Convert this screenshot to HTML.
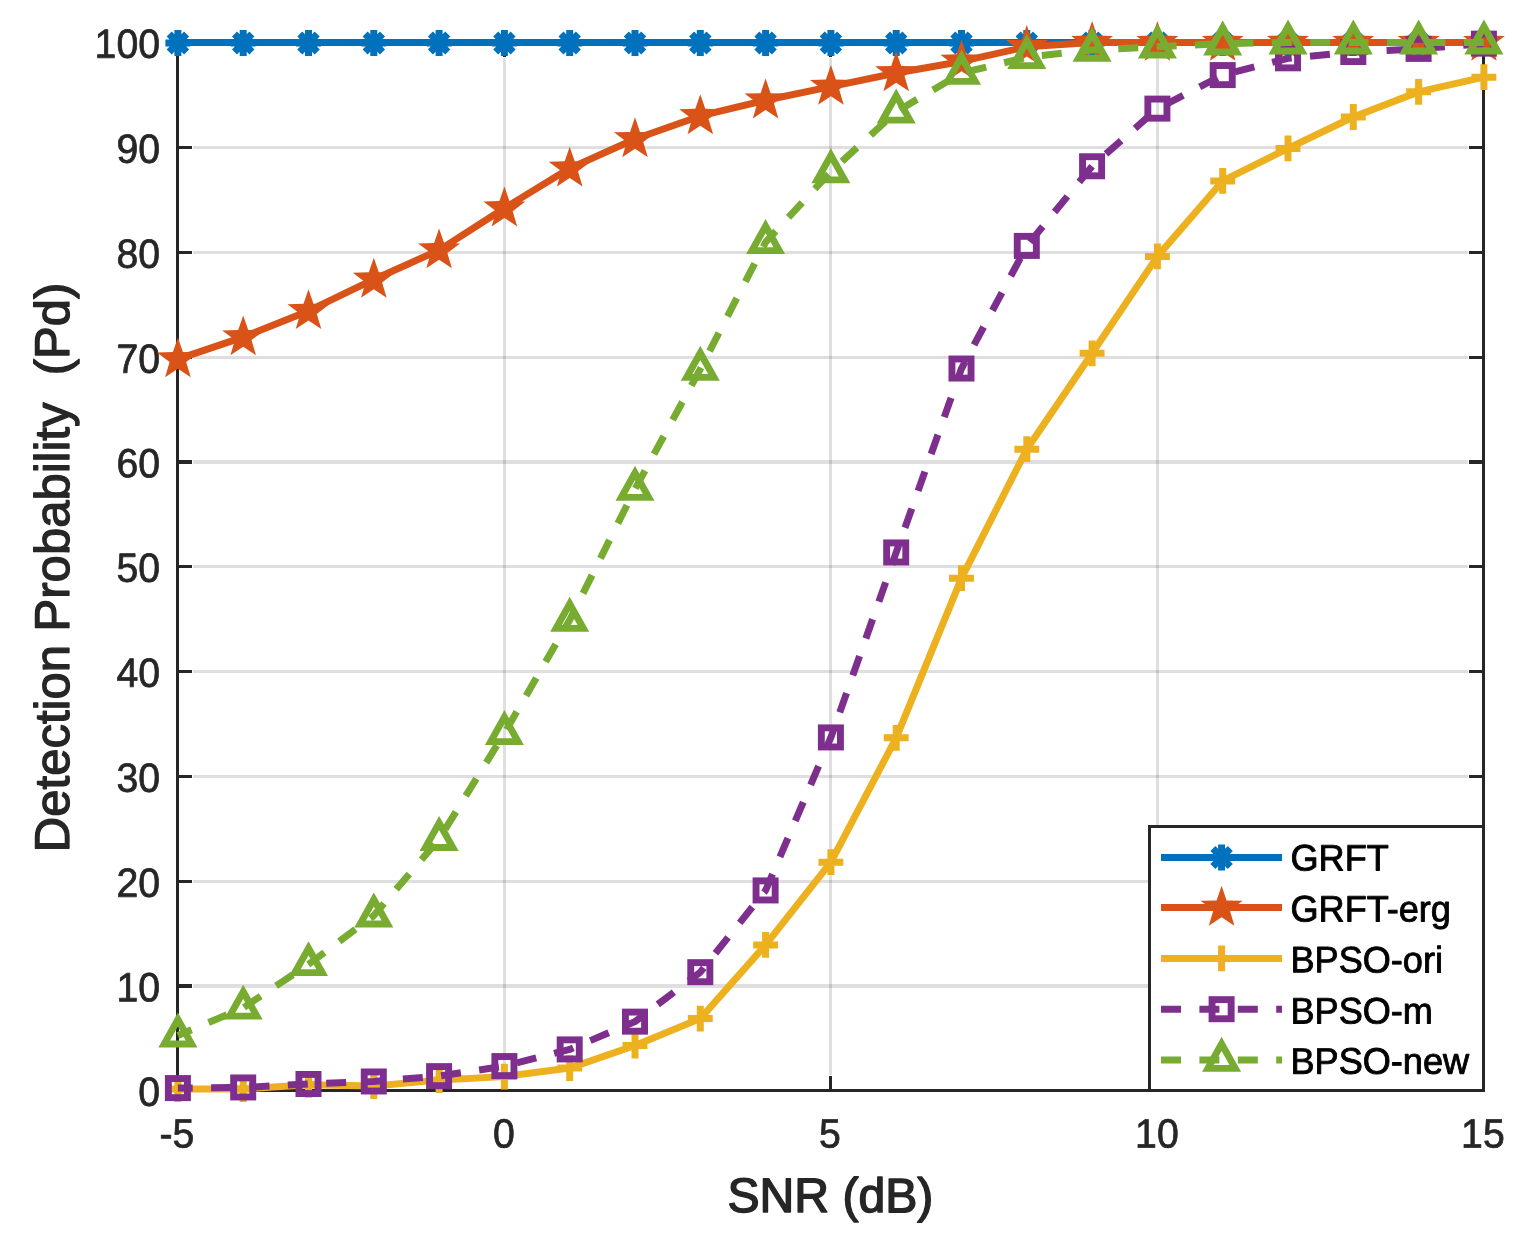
<!DOCTYPE html>
<html lang="en">
<head>
<meta charset="utf-8">
<title>Detection Probability vs SNR</title>
<style>
html,body{margin:0;padding:0;background:#ffffff;}
body{width:1522px;height:1238px;overflow:hidden;}
svg{display:block;}
</style>
</head>
<body>
<svg width="1522" height="1238" viewBox="0 0 1522 1238" role="img" aria-label="Detection probability versus SNR">
<rect x="0" y="0" width="1522" height="1238" fill="#ffffff"/>
<path d="M504.5 58.1V1074.9M830.5 58.1V1074.9M1157.5 58.1V1074.9" stroke="#262626" stroke-opacity="0.15" stroke-width="3" fill="none"/>
<path d="M193.1 881.5H1467.9M193.1 776.5H1467.9M193.1 671.5H1467.9M193.1 566.5H1467.9M193.1 357.5H1467.9M193.1 252.5H1467.9M193.1 147.5H1467.9" stroke="#262626" stroke-opacity="0.15" stroke-width="3" fill="none"/>
<path d="M193.1 986H1467.9M193.1 462H1467.9" stroke="#262626" stroke-opacity="0.15" stroke-width="4" fill="none"/>
<path d="M177.5 41V1092M1483.5 41V1092M176 42.5H1485M176 1090.5H1485M177.5 1090.5V1076M177.5 42.5V57M504.5 1090.5V1076M504.5 42.5V57M830.5 1090.5V1076M830.5 42.5V57M1157.5 1090.5V1076M1157.5 42.5V57M1483.5 1090.5V1076M1483.5 42.5V57M177.5 1090.5H192M1483.5 1090.5H1469M177.5 881.5H192M1483.5 881.5H1469M177.5 776.5H192M1483.5 776.5H1469M177.5 671.5H192M1483.5 671.5H1469M177.5 566.5H192M1483.5 566.5H1469M177.5 357.5H192M1483.5 357.5H1469M177.5 252.5H192M1483.5 252.5H1469M177.5 147.5H192M1483.5 147.5H1469M177.5 42.5H192M1483.5 42.5H1469" stroke="#262626" stroke-width="3" fill="none"/>
<path d="M177.5 986H192M1483.5 986H1469M177.5 462H192M1483.5 462H1469" stroke="#262626" stroke-width="4" fill="none"/>
<text transform="translate(176.9 1147.5) rotate(0.03) scale(0.9620 1)" text-rendering="geometricPrecision" font-family="'Liberation Sans', Arial, Helvetica, sans-serif" font-size="40.75" text-anchor="middle" fill="#262626" stroke="#262626" stroke-width="0.75" stroke-linejoin="round">-5</text>
<text transform="translate(503.9 1147.5) rotate(0.03) scale(0.9620 1)" text-rendering="geometricPrecision" font-family="'Liberation Sans', Arial, Helvetica, sans-serif" font-size="40.75" text-anchor="middle" fill="#262626" stroke="#262626" stroke-width="0.75" stroke-linejoin="round">0</text>
<text transform="translate(829.9 1147.5) rotate(0.03) scale(0.9620 1)" text-rendering="geometricPrecision" font-family="'Liberation Sans', Arial, Helvetica, sans-serif" font-size="40.75" text-anchor="middle" fill="#262626" stroke="#262626" stroke-width="0.75" stroke-linejoin="round">5</text>
<text transform="translate(1156.9 1147.5) rotate(0.03) scale(0.9620 1)" text-rendering="geometricPrecision" font-family="'Liberation Sans', Arial, Helvetica, sans-serif" font-size="40.75" text-anchor="middle" fill="#262626" stroke="#262626" stroke-width="0.75" stroke-linejoin="round">10</text>
<text transform="translate(1482.9 1147.5) rotate(0.03) scale(0.9620 1)" text-rendering="geometricPrecision" font-family="'Liberation Sans', Arial, Helvetica, sans-serif" font-size="40.75" text-anchor="middle" fill="#262626" stroke="#262626" stroke-width="0.75" stroke-linejoin="round">15</text>
<text transform="translate(160 1105.7) rotate(0.03) scale(0.9620 1)" text-rendering="geometricPrecision" font-family="'Liberation Sans', Arial, Helvetica, sans-serif" font-size="40.75" text-anchor="end" fill="#262626" stroke="#262626" stroke-width="0.75" stroke-linejoin="round">0</text>
<text transform="translate(160 1001.2) rotate(0.03) scale(0.9620 1)" text-rendering="geometricPrecision" font-family="'Liberation Sans', Arial, Helvetica, sans-serif" font-size="40.75" text-anchor="end" fill="#262626" stroke="#262626" stroke-width="0.75" stroke-linejoin="round">10</text>
<text transform="translate(160 896.7) rotate(0.03) scale(0.9620 1)" text-rendering="geometricPrecision" font-family="'Liberation Sans', Arial, Helvetica, sans-serif" font-size="40.75" text-anchor="end" fill="#262626" stroke="#262626" stroke-width="0.75" stroke-linejoin="round">20</text>
<text transform="translate(160 791.7) rotate(0.03) scale(0.9620 1)" text-rendering="geometricPrecision" font-family="'Liberation Sans', Arial, Helvetica, sans-serif" font-size="40.75" text-anchor="end" fill="#262626" stroke="#262626" stroke-width="0.75" stroke-linejoin="round">30</text>
<text transform="translate(160 686.7) rotate(0.03) scale(0.9620 1)" text-rendering="geometricPrecision" font-family="'Liberation Sans', Arial, Helvetica, sans-serif" font-size="40.75" text-anchor="end" fill="#262626" stroke="#262626" stroke-width="0.75" stroke-linejoin="round">40</text>
<text transform="translate(160 581.7) rotate(0.03) scale(0.9620 1)" text-rendering="geometricPrecision" font-family="'Liberation Sans', Arial, Helvetica, sans-serif" font-size="40.75" text-anchor="end" fill="#262626" stroke="#262626" stroke-width="0.75" stroke-linejoin="round">50</text>
<text transform="translate(160 477.2) rotate(0.03) scale(0.9620 1)" text-rendering="geometricPrecision" font-family="'Liberation Sans', Arial, Helvetica, sans-serif" font-size="40.75" text-anchor="end" fill="#262626" stroke="#262626" stroke-width="0.75" stroke-linejoin="round">60</text>
<text transform="translate(160 372.7) rotate(0.03) scale(0.9620 1)" text-rendering="geometricPrecision" font-family="'Liberation Sans', Arial, Helvetica, sans-serif" font-size="40.75" text-anchor="end" fill="#262626" stroke="#262626" stroke-width="0.75" stroke-linejoin="round">70</text>
<text transform="translate(160 267.7) rotate(0.03) scale(0.9620 1)" text-rendering="geometricPrecision" font-family="'Liberation Sans', Arial, Helvetica, sans-serif" font-size="40.75" text-anchor="end" fill="#262626" stroke="#262626" stroke-width="0.75" stroke-linejoin="round">80</text>
<text transform="translate(160 162.7) rotate(0.03) scale(0.9620 1)" text-rendering="geometricPrecision" font-family="'Liberation Sans', Arial, Helvetica, sans-serif" font-size="40.75" text-anchor="end" fill="#262626" stroke="#262626" stroke-width="0.75" stroke-linejoin="round">90</text>
<text transform="translate(160 57.7) rotate(0.03) scale(0.9620 1)" text-rendering="geometricPrecision" font-family="'Liberation Sans', Arial, Helvetica, sans-serif" font-size="40.75" text-anchor="end" fill="#262626" stroke="#262626" stroke-width="0.75" stroke-linejoin="round">100</text>
<text transform="translate(830.4 1212.1) rotate(0.03) scale(0.9922 1)" text-rendering="geometricPrecision" font-family="'Liberation Sans', Arial, Helvetica, sans-serif" font-size="48.5" text-anchor="middle" fill="#262626" stroke="#262626" stroke-width="1.5" stroke-linejoin="round">SNR (dB)</text>
<text transform="translate(68.8 567.4) rotate(-90) scale(1.0047 1)" text-rendering="geometricPrecision" font-family="'Liberation Sans', Arial, Helvetica, sans-serif" font-size="48.8" text-anchor="middle" fill="#262626" stroke="#262626" stroke-width="1.3" stroke-linejoin="round" xml:space="preserve">Detection Probability  (Pd)</text>
<polyline points="177.9,42.5 243.2,42.5 308.5,42.5 373.8,42.5 439.1,42.5 504.4,42.5 569.7,42.5 635,42.5 700.3,42.5 765.6,42.5 830.9,42.5 896.2,42.5 961.5,42.5 1026.8,42.5 1092.1,42.5 1157.4,42.5 1222.7,42.5 1288,42.5 1353.3,42.5 1418.6,42.5 1483.9,42.5" stroke="#0072BD" stroke-width="7" fill="none" stroke-linejoin="round"/>
<path d="M165.4 43H190.4M177.9 30.05V55.95M169.2 34L186.6 52M169.2 52L186.6 34" stroke="#0072BD" stroke-width="7" fill="none"/>
<path d="M230.7 43H255.7M243.2 30.05V55.95M234.5 34L251.9 52M234.5 52L251.9 34" stroke="#0072BD" stroke-width="7" fill="none"/>
<path d="M296 43H321M308.5 30.05V55.95M299.8 34L317.2 52M299.8 52L317.2 34" stroke="#0072BD" stroke-width="7" fill="none"/>
<path d="M361.3 43H386.3M373.8 30.05V55.95M365.1 34L382.5 52M365.1 52L382.5 34" stroke="#0072BD" stroke-width="7" fill="none"/>
<path d="M426.6 43H451.6M439.1 30.05V55.95M430.4 34L447.8 52M430.4 52L447.8 34" stroke="#0072BD" stroke-width="7" fill="none"/>
<path d="M491.9 43H516.9M504.4 30.05V55.95M495.7 34L513.1 52M495.7 52L513.1 34" stroke="#0072BD" stroke-width="7" fill="none"/>
<path d="M557.2 43H582.2M569.7 30.05V55.95M561 34L578.4 52M561 52L578.4 34" stroke="#0072BD" stroke-width="7" fill="none"/>
<path d="M622.5 43H647.5M635 30.05V55.95M626.3 34L643.7 52M626.3 52L643.7 34" stroke="#0072BD" stroke-width="7" fill="none"/>
<path d="M687.8 43H712.8M700.3 30.05V55.95M691.6 34L709 52M691.6 52L709 34" stroke="#0072BD" stroke-width="7" fill="none"/>
<path d="M753.1 43H778.1M765.6 30.05V55.95M756.9 34L774.3 52M756.9 52L774.3 34" stroke="#0072BD" stroke-width="7" fill="none"/>
<path d="M818.4 43H843.4M830.9 30.05V55.95M822.2 34L839.6 52M822.2 52L839.6 34" stroke="#0072BD" stroke-width="7" fill="none"/>
<path d="M883.7 43H908.7M896.2 30.05V55.95M887.5 34L904.9 52M887.5 52L904.9 34" stroke="#0072BD" stroke-width="7" fill="none"/>
<path d="M949 43H974M961.5 30.05V55.95M952.8 34L970.2 52M952.8 52L970.2 34" stroke="#0072BD" stroke-width="7" fill="none"/>
<path d="M1014.3 43H1039.3M1026.8 30.05V55.95M1018.1 34L1035.5 52M1018.1 52L1035.5 34" stroke="#0072BD" stroke-width="7" fill="none"/>
<path d="M1079.6 43H1104.6M1092.1 30.05V55.95M1083.4 34L1100.8 52M1083.4 52L1100.8 34" stroke="#0072BD" stroke-width="7" fill="none"/>
<path d="M1144.9 43H1169.9M1157.4 30.05V55.95M1148.7 34L1166.1 52M1148.7 52L1166.1 34" stroke="#0072BD" stroke-width="7" fill="none"/>
<path d="M1210.2 43H1235.2M1222.7 30.05V55.95M1214 34L1231.4 52M1214 52L1231.4 34" stroke="#0072BD" stroke-width="7" fill="none"/>
<path d="M1275.5 43H1300.5M1288 30.05V55.95M1279.3 34L1296.7 52M1279.3 52L1296.7 34" stroke="#0072BD" stroke-width="7" fill="none"/>
<path d="M1340.8 43H1365.8M1353.3 30.05V55.95M1344.6 34L1362 52M1344.6 52L1362 34" stroke="#0072BD" stroke-width="7" fill="none"/>
<path d="M1406.1 43H1431.1M1418.6 30.05V55.95M1409.9 34L1427.3 52M1409.9 52L1427.3 34" stroke="#0072BD" stroke-width="7" fill="none"/>
<path d="M1471.4 43H1496.4M1483.9 30.05V55.95M1475.2 34L1492.6 52M1475.2 52L1492.6 34" stroke="#0072BD" stroke-width="7" fill="none"/>
<polyline points="177.9,359.1 243.2,337.09 308.5,310.89 373.8,279.45 439.1,250.1 504.4,208.18 569.7,168.36 635,139.02 700.3,115.96 765.6,100.24 830.9,86.62 896.2,72.99 961.5,61.46 1026.8,46.79 1092.1,42.5 1157.4,42.5 1222.7,42.5 1288,42.5 1353.3,42.5 1418.6,42.5 1483.9,42.5" stroke="#D95319" stroke-width="7" fill="none" stroke-linejoin="round"/>
<polygon points="177.9,337.4 182.9,352 198.9,352.4 186.2,362.1 190.7,377.3 177.9,368.8 165.1,377.3 169.6,362.1 156.9,352.4 172.9,352" fill="#D95319"/>
<polygon points="243.2,315.39 248.2,329.99 264.2,330.39 251.5,340.09 256,355.29 243.2,346.79 230.4,355.29 234.9,340.09 222.2,330.39 238.2,329.99" fill="#D95319"/>
<polygon points="308.5,289.19 313.5,303.79 329.5,304.19 316.8,313.89 321.3,329.09 308.5,320.59 295.7,329.09 300.2,313.89 287.5,304.19 303.5,303.79" fill="#D95319"/>
<polygon points="373.8,257.75 378.8,272.35 394.8,272.75 382.1,282.45 386.6,297.65 373.8,289.15 361,297.65 365.5,282.45 352.8,272.75 368.8,272.35" fill="#D95319"/>
<polygon points="439.1,228.4 444.1,243 460.1,243.4 447.4,253.1 451.9,268.3 439.1,259.8 426.3,268.3 430.8,253.1 418.1,243.4 434.1,243" fill="#D95319"/>
<polygon points="504.4,186.48 509.4,201.08 525.4,201.48 512.7,211.18 517.2,226.38 504.4,217.88 491.6,226.38 496.1,211.18 483.4,201.48 499.4,201.08" fill="#D95319"/>
<polygon points="569.7,146.66 574.7,161.26 590.7,161.66 578,171.36 582.5,186.56 569.7,178.06 556.9,186.56 561.4,171.36 548.7,161.66 564.7,161.26" fill="#D95319"/>
<polygon points="635,117.32 640,131.92 656,132.32 643.3,142.02 647.8,157.22 635,148.72 622.2,157.22 626.7,142.02 614,132.32 630,131.92" fill="#D95319"/>
<polygon points="700.3,94.26 705.3,108.86 721.3,109.26 708.6,118.96 713.1,134.16 700.3,125.66 687.5,134.16 692,118.96 679.3,109.26 695.3,108.86" fill="#D95319"/>
<polygon points="765.6,78.54 770.6,93.14 786.6,93.54 773.9,103.24 778.4,118.44 765.6,109.94 752.8,118.44 757.3,103.24 744.6,93.54 760.6,93.14" fill="#D95319"/>
<polygon points="830.9,64.92 835.9,79.52 851.9,79.92 839.2,89.62 843.7,104.82 830.9,96.32 818.1,104.82 822.6,89.62 809.9,79.92 825.9,79.52" fill="#D95319"/>
<polygon points="896.2,51.29 901.2,65.89 917.2,66.29 904.5,75.99 909,91.19 896.2,82.69 883.4,91.19 887.9,75.99 875.2,66.29 891.2,65.89" fill="#D95319"/>
<polygon points="961.5,39.76 966.5,54.36 982.5,54.76 969.8,64.46 974.3,79.66 961.5,71.16 948.7,79.66 953.2,64.46 940.5,54.76 956.5,54.36" fill="#D95319"/>
<polygon points="1026.8,25.09 1031.8,39.69 1047.8,40.09 1035.1,49.79 1039.6,64.99 1026.8,56.49 1014,64.99 1018.5,49.79 1005.8,40.09 1021.8,39.69" fill="#D95319"/>
<polygon points="1092.1,20.9 1097.1,35.5 1113.1,35.9 1100.4,45.6 1104.9,60.8 1092.1,52.3 1079.3,60.8 1083.8,45.6 1071.1,35.9 1087.1,35.5" fill="#D95319"/>
<polygon points="1157.4,20.9 1162.4,35.5 1178.4,35.9 1165.7,45.6 1170.2,60.8 1157.4,52.3 1144.6,60.8 1149.1,45.6 1136.4,35.9 1152.4,35.5" fill="#D95319"/>
<polygon points="1222.7,20.9 1227.7,35.5 1243.7,35.9 1231,45.6 1235.5,60.8 1222.7,52.3 1209.9,60.8 1214.4,45.6 1201.7,35.9 1217.7,35.5" fill="#D95319"/>
<polygon points="1288,20.9 1293,35.5 1309,35.9 1296.3,45.6 1300.8,60.8 1288,52.3 1275.2,60.8 1279.7,45.6 1267,35.9 1283,35.5" fill="#D95319"/>
<polygon points="1353.3,20.9 1358.3,35.5 1374.3,35.9 1361.6,45.6 1366.1,60.8 1353.3,52.3 1340.5,60.8 1345,45.6 1332.3,35.9 1348.3,35.5" fill="#D95319"/>
<polygon points="1418.6,20.9 1423.6,35.5 1439.6,35.9 1426.9,45.6 1431.4,60.8 1418.6,52.3 1405.8,60.8 1410.3,45.6 1397.6,35.9 1413.6,35.5" fill="#D95319"/>
<polygon points="1483.9,20.9 1488.9,35.5 1504.9,35.9 1492.2,45.6 1496.7,60.8 1483.9,52.3 1471.1,60.8 1475.6,45.6 1462.9,35.9 1478.9,35.5" fill="#D95319"/>
<polyline points="177.9,1089.03 243.2,1089.03 308.5,1084.73 373.8,1085.99 439.1,1080.12 504.4,1076.56 569.7,1068.07 635,1045.54 700.3,1018.6 765.6,944.93 830.9,862.14 896.2,737.84 961.5,578.13 1026.8,449.22 1092.1,353.33 1157.4,256.39 1222.7,180.94 1288,148.45 1353.3,117.01 1418.6,91.86 1483.9,77.18" stroke="#EDB120" stroke-width="7" fill="none" stroke-linejoin="round"/>
<path d="M165.45 1089.03H190.35M177.9 1076.13V1101.93" stroke="#EDB120" stroke-width="7" fill="none"/>
<path d="M230.75 1089.03H255.65M243.2 1076.13V1101.93" stroke="#EDB120" stroke-width="7" fill="none"/>
<path d="M296.05 1084.73H320.95M308.5 1071.83V1097.63" stroke="#EDB120" stroke-width="7" fill="none"/>
<path d="M361.35 1085.99H386.25M373.8 1073.09V1098.89" stroke="#EDB120" stroke-width="7" fill="none"/>
<path d="M426.65 1080.12H451.55M439.1 1067.22V1093.02" stroke="#EDB120" stroke-width="7" fill="none"/>
<path d="M491.95 1076.56H516.85M504.4 1063.66V1089.46" stroke="#EDB120" stroke-width="7" fill="none"/>
<path d="M557.25 1068.07H582.15M569.7 1055.17V1080.97" stroke="#EDB120" stroke-width="7" fill="none"/>
<path d="M622.55 1045.54H647.45M635 1032.64V1058.44" stroke="#EDB120" stroke-width="7" fill="none"/>
<path d="M687.85 1018.6H712.75M700.3 1005.7V1031.5" stroke="#EDB120" stroke-width="7" fill="none"/>
<path d="M753.15 944.93H778.05M765.6 932.03V957.83" stroke="#EDB120" stroke-width="7" fill="none"/>
<path d="M818.45 862.14H843.35M830.9 849.24V875.04" stroke="#EDB120" stroke-width="7" fill="none"/>
<path d="M883.75 737.84H908.65M896.2 724.94V750.74" stroke="#EDB120" stroke-width="7" fill="none"/>
<path d="M949.05 578.13H973.95M961.5 565.23V591.03" stroke="#EDB120" stroke-width="7" fill="none"/>
<path d="M1014.35 449.22H1039.25M1026.8 436.32V462.12" stroke="#EDB120" stroke-width="7" fill="none"/>
<path d="M1079.65 353.33H1104.55M1092.1 340.43V366.23" stroke="#EDB120" stroke-width="7" fill="none"/>
<path d="M1144.95 256.39H1169.85M1157.4 243.49V269.29" stroke="#EDB120" stroke-width="7" fill="none"/>
<path d="M1210.25 180.94H1235.15M1222.7 168.04V193.84" stroke="#EDB120" stroke-width="7" fill="none"/>
<path d="M1275.55 148.45H1300.45M1288 135.55V161.35" stroke="#EDB120" stroke-width="7" fill="none"/>
<path d="M1340.85 117.01H1365.75M1353.3 104.11V129.91" stroke="#EDB120" stroke-width="7" fill="none"/>
<path d="M1406.15 91.86H1431.05M1418.6 78.96V104.76" stroke="#EDB120" stroke-width="7" fill="none"/>
<path d="M1471.45 77.18H1496.35M1483.9 64.28V90.08" stroke="#EDB120" stroke-width="7" fill="none"/>
<path d="M177.9 1088.08L192.7 1087.94M211.1 1087.77L231.1 1087.57M249.49 1087.12L269.46 1086.07M287.84 1085.09L307.81 1084.03M326.2 1083.32L346.18 1082.55M364.57 1081.84L373.8 1081.48L384.53 1080.6M402.87 1079.1L422.81 1077.47M441.13 1075.82L460.91 1072.78M479.1 1069.97L498.88 1066.93M516.83 1062.9L536.24 1057.95M554.09 1053.4L569.7 1049.41L573.31 1047.88M590.3 1040.65L608.76 1032.8M625.75 1025.57L635 1021.64L643.02 1015.57M657.8 1004.37L673.87 992.2M688.65 981L700.3 972.18L703.78 967.82M715.42 953.25L728.06 937.42M739.7 922.85L752.35 907.02M763.98 892.45L765.6 890.43L772.57 874.09M779.93 856.85L787.93 838.12M795.28 820.88L803.28 802.14M810.63 784.91L818.63 766.17M825.99 748.94L830.9 737.42L833.52 730.01M839.76 712.32L846.55 693.1M852.79 675.41L859.58 656.18M865.83 638.49L872.61 619.26M878.86 601.58L885.65 582.35M891.89 564.66L896.2 552.45L898.69 545.44M904.97 527.76L911.79 508.55M918.06 490.87L924.89 471.66M931.16 453.98L937.98 434.76M944.26 417.09L951.08 397.87M957.36 380.2L961.5 368.53L965.26 361.48M974.05 344.96L983.61 327.01M992.41 310.49L1001.97 292.54M1010.77 276.02L1020.33 258.07M1029.92 242.11L1042.77 226.44M1054.58 212.02L1067.43 196.36M1079.25 181.94L1092.09 166.28M1106.01 153.98L1121.15 140.62M1135.07 128.33L1150.21 114.97M1165.35 104.54L1183.22 95.36M1199.66 86.92L1217.53 77.74M1234.94 71.95L1254.34 66.96M1272.18 62.38L1288 58.32L1291.67 57.97M1309.99 56.2L1329.9 54.28M1348.22 52.52L1353.3 52.03L1368.18 51.32M1386.56 50.43L1406.54 49.47M1424.91 48.38L1444.85 46.78M1463.19 45.31L1483.13 43.71" stroke="#7E2F8E" stroke-width="7" fill="none" stroke-linejoin="round"/>
<rect x="168.35" y="1078.53" width="19.1" height="19.1" stroke="#7E2F8E" stroke-width="6.9" fill="none"/>
<rect x="233.65" y="1077.91" width="19.1" height="19.1" stroke="#7E2F8E" stroke-width="6.9" fill="none"/>
<rect x="298.95" y="1074.45" width="19.1" height="19.1" stroke="#7E2F8E" stroke-width="6.9" fill="none"/>
<rect x="364.25" y="1071.93" width="19.1" height="19.1" stroke="#7E2F8E" stroke-width="6.9" fill="none"/>
<rect x="429.55" y="1066.59" width="19.1" height="19.1" stroke="#7E2F8E" stroke-width="6.9" fill="none"/>
<rect x="494.85" y="1056.53" width="19.1" height="19.1" stroke="#7E2F8E" stroke-width="6.9" fill="none"/>
<rect x="560.15" y="1039.86" width="19.1" height="19.1" stroke="#7E2F8E" stroke-width="6.9" fill="none"/>
<rect x="625.45" y="1012.09" width="19.1" height="19.1" stroke="#7E2F8E" stroke-width="6.9" fill="none"/>
<rect x="690.75" y="962.63" width="19.1" height="19.1" stroke="#7E2F8E" stroke-width="6.9" fill="none"/>
<rect x="756.05" y="880.88" width="19.1" height="19.1" stroke="#7E2F8E" stroke-width="6.9" fill="none"/>
<rect x="821.35" y="727.87" width="19.1" height="19.1" stroke="#7E2F8E" stroke-width="6.9" fill="none"/>
<rect x="886.65" y="542.9" width="19.1" height="19.1" stroke="#7E2F8E" stroke-width="6.9" fill="none"/>
<rect x="951.95" y="358.98" width="19.1" height="19.1" stroke="#7E2F8E" stroke-width="6.9" fill="none"/>
<rect x="1017.25" y="236.36" width="19.1" height="19.1" stroke="#7E2F8E" stroke-width="6.9" fill="none"/>
<rect x="1082.55" y="156.71" width="19.1" height="19.1" stroke="#7E2F8E" stroke-width="6.9" fill="none"/>
<rect x="1147.85" y="99.07" width="19.1" height="19.1" stroke="#7E2F8E" stroke-width="6.9" fill="none"/>
<rect x="1213.15" y="65.54" width="19.1" height="19.1" stroke="#7E2F8E" stroke-width="6.9" fill="none"/>
<rect x="1278.45" y="48.77" width="19.1" height="19.1" stroke="#7E2F8E" stroke-width="6.9" fill="none"/>
<rect x="1343.75" y="42.48" width="19.1" height="19.1" stroke="#7E2F8E" stroke-width="6.9" fill="none"/>
<rect x="1409.05" y="39.34" width="19.1" height="19.1" stroke="#7E2F8E" stroke-width="6.9" fill="none"/>
<rect x="1474.35" y="34.1" width="19.1" height="19.1" stroke="#7E2F8E" stroke-width="6.9" fill="none"/>
<path d="M177.9 1035.58L191.56 1029.77M208.55 1022.54L227.02 1014.69M243.93 1007.32L260.69 996.16M276.1 985.89L292.86 974.73M308.27 964.47L308.5 964.32L324.43 952.43M339.29 941.34L355.44 929.28M370.3 918.19L373.8 915.58L384.1 903.51M396.2 889.34L409.35 873.94M421.44 859.77L434.59 844.37M445.25 829.11L455.92 811.82M465.73 795.91L476.4 778.62M486.21 762.71L496.88 745.42M506.58 729.45L516.74 711.84M526.09 695.64L536.25 678.03M545.59 661.84L555.75 644.23M565.1 628.03L569.7 620.05L574.66 610.09M583.02 593.34L592.09 575.12M600.45 558.37L609.53 540.15M617.88 523.4L626.96 505.19M635.33 488.44L645.05 470.58M653.99 454.14L663.72 436.28M672.66 419.85L682.38 401.98M691.32 385.55L700.3 369.05L701.01 367.67M709.58 351.03L718.9 332.94M727.47 316.3L736.78 298.21M745.35 281.57L754.66 263.48M763.23 246.84L765.6 242.24L775.84 231.15M788.46 217.48L802.19 202.61M814.81 188.93L828.54 174.06M842.05 161.31L856.95 147.68M870.66 135.13L885.56 121.5M899.76 109.65L917.06 99.38M932.96 89.94L950.26 79.67M966.75 71.73L986.22 67.04M1004.13 62.73L1023.6 58.04M1041.82 55.58L1061.7 53.35M1079.99 51.3L1092.1 49.94L1099.91 49.56M1118.29 48.68L1138.27 47.71M1156.65 46.83L1157.4 46.79L1176.62 45.87M1195 44.98L1214.98 44.02M1233.37 43.46L1253.37 43.11M1271.76 42.79L1288 42.5L1291.76 42.5M1310.16 42.5L1330.16 42.5M1348.56 42.5L1353.3 42.5L1368.56 42.5M1386.96 42.5L1406.96 42.5M1425.36 42.5L1445.36 42.5M1463.76 42.5L1483.76 42.5" stroke="#77AC30" stroke-width="7" fill="none" stroke-linejoin="round"/>
<polygon points="177.9,1019.48 191.55,1043.93 164.25,1043.93" stroke="#77AC30" stroke-width="6.9" fill="none" stroke-linejoin="miter" stroke-miterlimit="10"/>
<polygon points="243.2,991.71 256.85,1016.16 229.55,1016.16" stroke="#77AC30" stroke-width="6.9" fill="none" stroke-linejoin="miter" stroke-miterlimit="10"/>
<polygon points="308.5,948.22 322.15,972.67 294.85,972.67" stroke="#77AC30" stroke-width="6.9" fill="none" stroke-linejoin="miter" stroke-miterlimit="10"/>
<polygon points="373.8,899.48 387.45,923.93 360.15,923.93" stroke="#77AC30" stroke-width="6.9" fill="none" stroke-linejoin="miter" stroke-miterlimit="10"/>
<polygon points="439.1,822.98 452.75,847.43 425.45,847.43" stroke="#77AC30" stroke-width="6.9" fill="none" stroke-linejoin="miter" stroke-miterlimit="10"/>
<polygon points="504.4,717.13 518.05,741.58 490.75,741.58" stroke="#77AC30" stroke-width="6.9" fill="none" stroke-linejoin="miter" stroke-miterlimit="10"/>
<polygon points="569.7,603.95 583.35,628.4 556.05,628.4" stroke="#77AC30" stroke-width="6.9" fill="none" stroke-linejoin="miter" stroke-miterlimit="10"/>
<polygon points="635,472.95 648.65,497.4 621.35,497.4" stroke="#77AC30" stroke-width="6.9" fill="none" stroke-linejoin="miter" stroke-miterlimit="10"/>
<polygon points="700.3,352.95 713.95,377.4 686.65,377.4" stroke="#77AC30" stroke-width="6.9" fill="none" stroke-linejoin="miter" stroke-miterlimit="10"/>
<polygon points="765.6,226.14 779.25,250.59 751.95,250.59" stroke="#77AC30" stroke-width="6.9" fill="none" stroke-linejoin="miter" stroke-miterlimit="10"/>
<polygon points="830.9,155.4 844.55,179.85 817.25,179.85" stroke="#77AC30" stroke-width="6.9" fill="none" stroke-linejoin="miter" stroke-miterlimit="10"/>
<polygon points="896.2,95.67 909.85,120.12 882.55,120.12" stroke="#77AC30" stroke-width="6.9" fill="none" stroke-linejoin="miter" stroke-miterlimit="10"/>
<polygon points="961.5,56.89 975.15,81.34 947.85,81.34" stroke="#77AC30" stroke-width="6.9" fill="none" stroke-linejoin="miter" stroke-miterlimit="10"/>
<polygon points="1026.8,41.17 1040.45,65.62 1013.15,65.62" stroke="#77AC30" stroke-width="6.9" fill="none" stroke-linejoin="miter" stroke-miterlimit="10"/>
<polygon points="1092.1,33.84 1105.75,58.29 1078.45,58.29" stroke="#77AC30" stroke-width="6.9" fill="none" stroke-linejoin="miter" stroke-miterlimit="10"/>
<polygon points="1157.4,30.69 1171.05,55.14 1143.75,55.14" stroke="#77AC30" stroke-width="6.9" fill="none" stroke-linejoin="miter" stroke-miterlimit="10"/>
<polygon points="1222.7,27.55 1236.35,52 1209.05,52" stroke="#77AC30" stroke-width="6.9" fill="none" stroke-linejoin="miter" stroke-miterlimit="10"/>
<polygon points="1288,26.5 1301.65,50.95 1274.35,50.95" stroke="#77AC30" stroke-width="6.9" fill="none" stroke-linejoin="miter" stroke-miterlimit="10"/>
<polygon points="1353.3,26.5 1366.95,50.95 1339.65,50.95" stroke="#77AC30" stroke-width="6.9" fill="none" stroke-linejoin="miter" stroke-miterlimit="10"/>
<polygon points="1418.6,26.5 1432.25,50.95 1404.95,50.95" stroke="#77AC30" stroke-width="6.9" fill="none" stroke-linejoin="miter" stroke-miterlimit="10"/>
<polygon points="1483.9,26.5 1497.55,50.95 1470.25,50.95" stroke="#77AC30" stroke-width="6.9" fill="none" stroke-linejoin="miter" stroke-miterlimit="10"/>
<rect x="1149.5" y="826.5" width="334" height="264" fill="#ffffff" stroke="#262626" stroke-width="3"/>
<path d="M1161 857.5H1282" stroke="#0072BD" stroke-width="7" fill="none"/>
<path d="M1209.1 857.5H1234.1M1221.6 844.55V870.45M1212.9 848.5L1230.3 866.5M1212.9 866.5L1230.3 848.5" stroke="#0072BD" stroke-width="7" fill="none"/>
<text transform="translate(1290.5 870.55) rotate(0.03) scale(0.9785 1)" text-rendering="geometricPrecision" font-family="'Liberation Sans', Arial, Helvetica, sans-serif" font-size="36.9" text-anchor="start" fill="#000000" stroke="#000000" stroke-width="0.9" stroke-linejoin="round">GRFT</text>
<path d="M1161 907.5H1282" stroke="#D95319" stroke-width="7" fill="none"/>
<polygon points="1221.6,885.8 1226.6,900.4 1242.6,900.8 1229.9,910.5 1234.4,925.7 1221.6,917.2 1208.8,925.7 1213.3,910.5 1200.6,900.8 1216.6,900.4" fill="#D95319"/>
<text transform="translate(1290.5 921.55) rotate(0.03) scale(0.9785 1)" text-rendering="geometricPrecision" font-family="'Liberation Sans', Arial, Helvetica, sans-serif" font-size="36.9" text-anchor="start" fill="#000000" stroke="#000000" stroke-width="0.9" stroke-linejoin="round">GRFT-erg</text>
<path d="M1161 958.4H1282" stroke="#EDB120" stroke-width="7" fill="none"/>
<path d="M1209.15 958.4H1234.05M1221.6 945.5V971.3" stroke="#EDB120" stroke-width="7" fill="none"/>
<text transform="translate(1290.5 972.35) rotate(0.03) scale(0.9785 1)" text-rendering="geometricPrecision" font-family="'Liberation Sans', Arial, Helvetica, sans-serif" font-size="36.9" text-anchor="start" fill="#000000" stroke="#000000" stroke-width="0.9" stroke-linejoin="round">BPSO-ori</text>
<path d="M1161 1009.2L1181 1009.2M1199.4 1009.2L1219.4 1009.2M1237.8 1009.2L1257.8 1009.2M1276.2 1009.2L1282 1009.2" stroke="#7E2F8E" stroke-width="7" fill="none"/>
<rect x="1212.05" y="999.65" width="19.1" height="19.1" stroke="#7E2F8E" stroke-width="6.9" fill="none"/>
<text transform="translate(1290.5 1023.55) rotate(0.03) scale(0.9785 1)" text-rendering="geometricPrecision" font-family="'Liberation Sans', Arial, Helvetica, sans-serif" font-size="36.9" text-anchor="start" fill="#000000" stroke="#000000" stroke-width="0.9" stroke-linejoin="round">BPSO-m</text>
<path d="M1161 1060L1181 1060M1199.4 1060L1219.4 1060M1237.8 1060L1257.8 1060M1276.2 1060L1282 1060" stroke="#77AC30" stroke-width="7" fill="none"/>
<polygon points="1221.6,1043.9 1235.25,1068.35 1207.95,1068.35" stroke="#77AC30" stroke-width="6.9" fill="none" stroke-linejoin="miter" stroke-miterlimit="10"/>
<text transform="translate(1290.5 1073.75) rotate(0.03) scale(0.9785 1)" text-rendering="geometricPrecision" font-family="'Liberation Sans', Arial, Helvetica, sans-serif" font-size="36.9" text-anchor="start" fill="#000000" stroke="#000000" stroke-width="0.9" stroke-linejoin="round">BPSO-new</text>
</svg>
</body>
</html>
